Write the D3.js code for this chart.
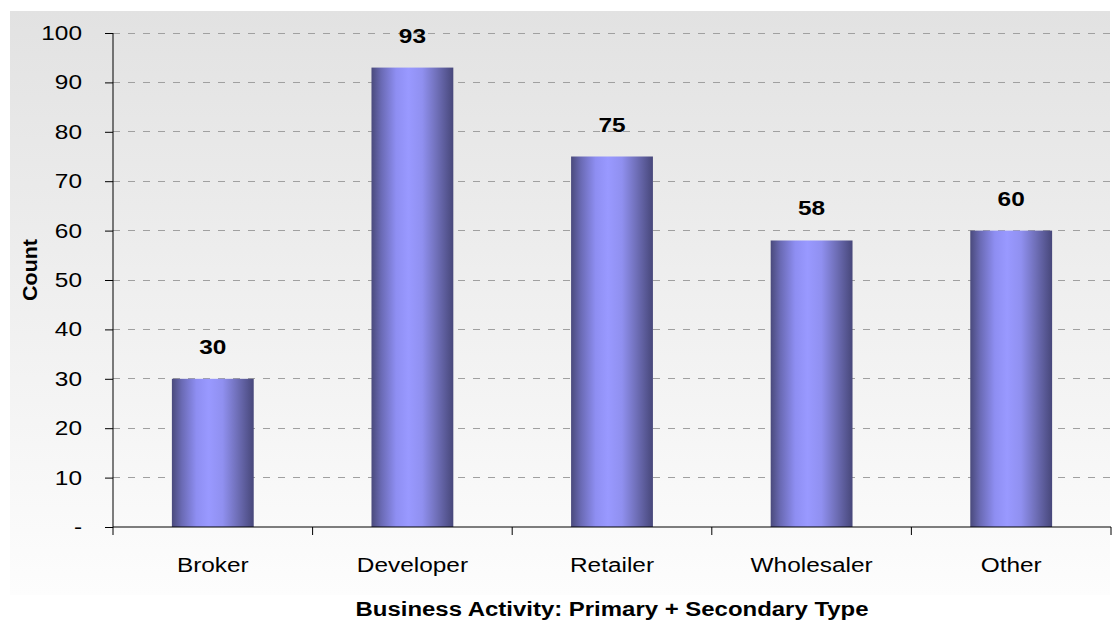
<!DOCTYPE html>
<html><head><meta charset="utf-8">
<script src="https://cdn.jsdelivr.net/npm/d3@7"></script>
<style>body{margin:0;background:#fff;}svg{display:block;font-family:"Liberation Sans",Arial,sans-serif;}</style>
</head><body>
<svg id="c" width="1117" height="623"></svg>
<script>
const categories = ["Broker","Developer","Retailer","Wholesaler","Other"];
const counts = [30,93,75,58,60];
const yTicks = [0,10,20,30,40,50,60,70,80,90,100];
const yTickLabels = ["-","10","20","30","40","50","60","70","80","90","100"];

const svg = d3.select("#c");
const defs = svg.append("defs");
const bg = defs.append("linearGradient").attr("id","bg").attr("x1",0).attr("y1",0).attr("x2",0).attr("y2",1);
bg.append("stop").attr("offset","0%").attr("stop-color","#e2e2e2");
bg.append("stop").attr("offset","100%").attr("stop-color","#fdfdfd");
const bar = defs.append("linearGradient").attr("id","bar").attr("x1",0).attr("y1",0).attr("x2",1).attr("y2",0);
[["0%","#4a4a7c"],["12%","#6a6ab4"],["30%","#8e8ef2"],["45%","#9999ff"],["62%","#9090f0"],["80%","#6f6fb8"],["100%","#47477a"]]
  .forEach(([o,c])=>bar.append("stop").attr("offset",o).attr("stop-color",c));

svg.append("rect").attr("x",10).attr("y",11).attr("width",1100).attr("height",584).attr("fill","url(#bg)");

const x0 = 113, x1 = 1111, yTop = 33, yBot = 527;
const x = d3.scaleBand().domain(categories).range([x0,x1]).paddingInner(0).paddingOuter(0);
const y = d3.scaleLinear().domain([0,100]).range([yBot,yTop]);
const STRETCH = 1.22;
function stretch(sel, f){ sel.each(function(){ const L=this.getComputedTextLength(); this.setAttribute("textLength", L*(f||STRETCH)); this.setAttribute("lengthAdjust","spacingAndGlyphs"); }); }

// gridlines
svg.append("g").selectAll("line").data(yTicks.filter(d=>d>0)).join("line")
  .attr("x1",x0).attr("x2",x1).attr("y1",d=>y(d)).attr("y2",d=>y(d))
  .attr("stroke","#a0a0a0").attr("stroke-width",1).attr("stroke-dasharray","7,8").attr("shape-rendering","crispEdges");

// bars
const bw = x.bandwidth()*0.41;
svg.append("g").selectAll("rect").data(counts).join("rect")
  .attr("x",(d,i)=>x(categories[i])+x.bandwidth()/2-bw/2)
  .attr("width",bw)
  .attr("y",d=>y(d))
  .attr("height",d=>yBot-y(d))
  .attr("fill","url(#bar)");

// value labels
const vl = svg.append("g").selectAll("text").data(counts).join("text")
  .attr("x",(d,i)=>x(categories[i])+x.bandwidth()/2)
  .attr("y",d=>y(d)-25)
  .attr("text-anchor","middle").attr("font-weight","bold").attr("font-size",20).attr("fill","#000")
  .text(d=>d);
stretch(vl);

// y axis
const yAxis = d3.axisLeft(y).tickValues(yTicks).tickFormat((d,i)=>yTickLabels[i]).tickSize(8).tickPadding(23);
const gy = svg.append("g").attr("transform",`translate(${x0},0)`).call(yAxis);
gy.select(".domain").attr("stroke","#000").attr("d",`M0,${yTop}V${yBot}`);
gy.selectAll(".tick line").attr("stroke","#000");
gy.selectAll("text").attr("font-size",20).attr("font-family","Liberation Sans, Arial, sans-serif").attr("fill","#000");
stretch(gy.selectAll("text"));

// x axis
const xAxis = d3.axisBottom(x).tickSize(0).tickPadding(31);
const gx = svg.append("g").attr("transform",`translate(0,${yBot})`).call(xAxis);
gx.select(".domain").attr("stroke","#000").attr("d",`M${x0},0H${x1}`);
gx.selectAll("text").attr("font-size",20).attr("font-family","Liberation Sans, Arial, sans-serif").attr("fill","#000");
stretch(gx.selectAll("text"));
const bounds = categories.map(c=>x(c)).concat([x1]);
gx.append("g").selectAll("line").data(bounds).join("line")
  .attr("x1",d=>d).attr("x2",d=>d).attr("y1",0).attr("y2",8).attr("stroke","#000");

// axis titles
const xt = svg.append("text").attr("x",(x0+x1)/2).attr("y",616).attr("text-anchor","middle")
  .attr("font-weight","bold").attr("font-size",20).text("Business Activity: Primary + Secondary Type");
xt.attr("textLength",513).attr("lengthAdjust","spacingAndGlyphs");
svg.append("text").attr("transform",`translate(37,270) rotate(-90)`).attr("text-anchor","middle")
  .attr("font-weight","bold").attr("font-size",20).attr("textLength",62).attr("lengthAdjust","spacingAndGlyphs").text("Count");
</script>
</body></html>
